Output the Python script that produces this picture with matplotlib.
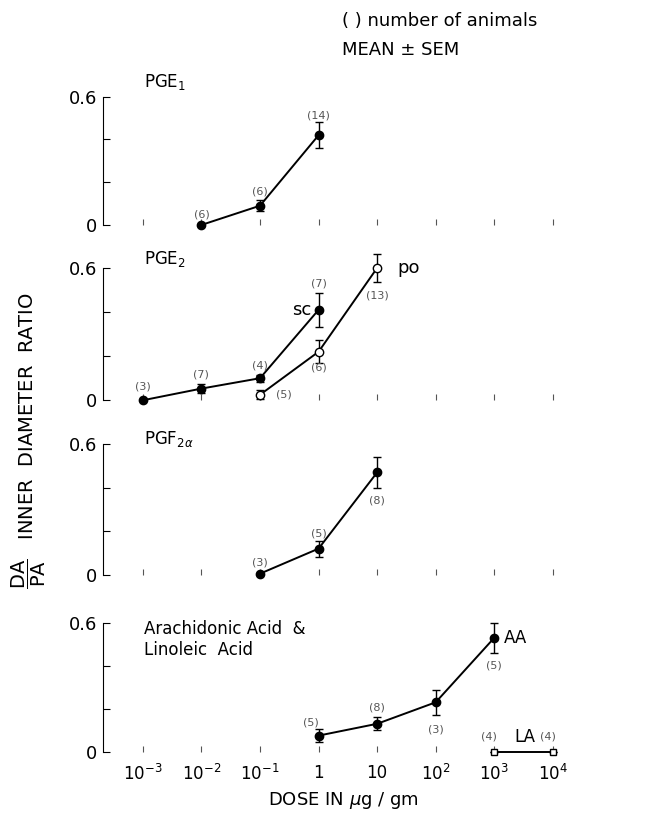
import matplotlib.pyplot as plt

# dose-response data (dose in ug/gm, ratio DA/PA)
pge1_x = [0.01, 0.1, 1]
pge1_y = [0.0, 0.09, 0.42]
pge1_err = [0.0, 0.027, 0.06]
pge1_n = ["(6)", "(6)", "(14)"]

pge2_sc_x = [0.001, 0.01, 0.1, 1]
pge2_sc_y = [0.0, 0.053, 0.10, 0.41]
pge2_sc_err = [0.0, 0.02, 0.015, 0.076]
pge2_sc_n = ["(3)", "(7)", "(4)", "(7)"]

pge2_po_x = [0.1, 1, 10]
pge2_po_y = [0.025, 0.22, 0.60]
pge2_po_err = [0.02, 0.053, 0.065]
pge2_po_n = ["(5)", "(6)", "(13)"]

pgf_x = [0.1, 1, 10]
pgf_y = [0.005, 0.12, 0.47]
pgf_err = [0.0, 0.037, 0.07]
pgf_n = ["(3)", "(5)", "(8)"]

aa_x = [1, 10, 100, 1000]
aa_y = [0.075, 0.13, 0.23, 0.53]
aa_err = [0.03, 0.03, 0.058, 0.07]
aa_n = ["(5)", "(8)", "(3)", "(5)"]

la_x = [1000, 10000]
la_y = [0.0, 0.0]
la_n = ["(4)", "(4)"]

doses = [1e-3, 1e-2, 1e-1, 1, 10, 1e2, 1e3, 1e4]
dose_labels = ["$10^{-3}$", "$10^{-2}$", "$10^{-1}$", "1", "10",
               "$10^{2}$", "$10^{3}$", "$10^{4}$"]

plt.rcParams['font.family'] = ['DejaVu Sans']

fig = plt.figure(figsize=(6.48, 8.27), dpi=100)

# panel rectangles in figure fraction
left, width = 0.159, 0.705
bottoms = [0.728, 0.516, 0.305, 0.091]
heights = [0.155, 0.160, 0.158, 0.156]
axes = [fig.add_axes([left, b, width, h]) for b, h in zip(bottoms, heights)]


def serie(ax, x, y, err, n, offs, filled=True, marker='o'):
    ax.errorbar(x, y, yerr=err, fmt='-', color='black', lw=1.4,
                marker=marker, ms=6 if marker == 'o' else 5,
                mfc='black' if filled else 'white', mec='black',
                capsize=3, elinewidth=1, clip_on=False, zorder=3)
    for xi, yi, lab, (dx, dy) in zip(x, y, n, offs):
        ax.annotate(lab, (xi, yi), xytext=(dx, dy), textcoords='offset pixels',
                    ha='center', va='center', fontsize=8, color='#555555')


for ax in axes:
    ax.set_xscale('log')
    ax.set_xlim(10 ** -3.68, 10 ** 4.12)
    ax.set_ylim(0, 0.6)
    ax.set_yticks([0, 0.2, 0.4, 0.6])
    ax.set_yticklabels(['0', '', '', '0.6'], fontsize=13)
    ax.set_xticks(doses)
    ax.xaxis.set_minor_locator(plt.NullLocator())
    ax.set_xticklabels([])
    ax.tick_params(axis='y', direction='in', length=5, pad=4)
    ax.tick_params(axis='x', direction='in', length=4, color='#555555')
    for s in ['top', 'right', 'bottom']:
        ax.spines[s].set_visible(False)
    ax.set_facecolor('none')

axes[-1].set_xticklabels(dose_labels, fontsize=12)
axes[-1].tick_params(axis='x', pad=9)

# PGE1
ax = axes[0]
serie(ax, pge1_x, pge1_y, pge1_err, pge1_n, [(0, 10), (0, 14), (0, 20)])
ax.text(0.09, 1.08, "PGE$_1$", transform=ax.transAxes, fontsize=12)

# PGE2
ax = axes[1]
serie(ax, pge2_sc_x, pge2_sc_y, pge2_sc_err, pge2_sc_n,
      [(0, 14), (0, 14), (0, 13), (0, 26)])
serie(ax, pge2_po_x, pge2_po_y, pge2_po_err, pge2_po_n,
      [(24, 0), (0, -16), (0, -28)], filled=False)
ax.text(0.09, 1.03, "PGE$_2$", transform=ax.transAxes, fontsize=12)
ax.annotate("sc", (1, 0.41), xytext=(-7, 0), textcoords='offset pixels',
            ha='right', va='center', fontsize=13)
ax.annotate("po", (10, 0.60), xytext=(20, 0), textcoords='offset pixels',
            ha='left', va='center', fontsize=13)

# PGF2a
ax = axes[2]
serie(ax, pgf_x, pgf_y, pgf_err, pgf_n, [(0, 11), (0, 15), (0, -28)])
ax.text(0.09, 1.0, r"PGF$_{2\alpha}$", transform=ax.transAxes, fontsize=12)

# Arachidonic and linoleic acid
ax = axes[3]
serie(ax, aa_x, aa_y, aa_err, aa_n, [(-8, 13), (0, 16), (0, -27), (0, -28)])
serie(ax, la_x, la_y, [0, 0], la_n, [(-5, 15), (-5, 15)],
      filled=False, marker='s')
ax.text(0.09, 1.02, "Arachidonic Acid  &\nLinoleic  Acid", transform=ax.transAxes,
        fontsize=12, va='top', linespacing=1.2)
ax.annotate("AA", (1000, 0.53), xytext=(10, 0), textcoords='offset pixels',
            ha='left', va='center', fontsize=12)
ax.annotate("LA", (1000, 0.0), xytext=(20, 15), textcoords='offset pixels',
            ha='left', va='center', fontsize=12)

fig.text(0.53, 0.032, r"DOSE IN $\mu$g / gm", ha='center', va='center', fontsize=13)
fig.text(0.045, 0.467, r"$\dfrac{\mathrm{DA}}{\mathrm{PA}}$   INNER  DIAMETER  RATIO",
         rotation=90, ha='center', va='center', fontsize=14)
fig.text(0.528, 0.975, "( ) number of animals", ha='left', va='center', fontsize=13)
fig.text(0.528, 0.94, "MEAN \u00b1 SEM", ha='left', va='center', fontsize=13)

fig.savefig("out.png", dpi=100)
